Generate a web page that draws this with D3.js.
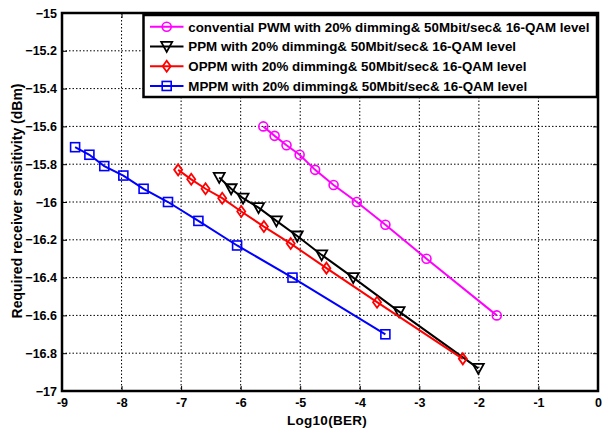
<!DOCTYPE html>
<html>
<head>
<meta charset="utf-8">
<script src="https://cdn.jsdelivr.net/npm/d3@7"></script>
<style>
  body { margin: 0; background: #fff; }
  text { font-family: "Liberation Sans", Arial, sans-serif; font-weight: bold; }
</style>
</head>
<body>
<div id="chart"></div>
<script>
// data
const pwmX  = [-5.62, -5.43, -5.23, -5.01, -4.75, -4.44, -4.05, -3.57, -2.88, -1.70];
const pwmY  = [-15.60, -15.65, -15.70, -15.75, -15.83, -15.91, -16.00, -16.12, -16.30, -16.60];
const ppmX  = [-6.36, -6.16, -5.96, -5.70, -5.40, -5.05, -4.64, -4.11, -3.34, -2.01];
const ppmY  = [-15.87, -15.93, -15.98, -16.03, -16.10, -16.18, -16.28, -16.40, -16.58, -16.88];
const oppmX = [-7.05, -6.83, -6.59, -6.31, -5.99, -5.61, -5.16, -4.56, -3.71, -2.27];
const oppmY = [-15.83, -15.88, -15.93, -15.98, -16.05, -16.13, -16.22, -16.35, -16.53, -16.83];
const mppmX = [-8.78, -8.54, -8.29, -7.97, -7.63, -7.22, -6.71, -6.06, -5.13, -3.57];
const mppmY = [-15.71, -15.75, -15.81, -15.86, -15.93, -16.00, -16.10, -16.23, -16.40, -16.70];

const xTicks = [-9, -8, -7, -6, -5, -4, -3, -2, -1, 0];
const yTicks = [-17, -16.8, -16.6, -16.4, -16.2, -16, -15.8, -15.6, -15.4, -15.2, -15];

const seriesNames = [
  "convential PWM with 20% dimming& 50Mbit/sec& 16-QAM level",
  "PPM with 20% dimming& 50Mbit/sec& 16-QAM level",
  "OPPM with 20% dimming& 50Mbit/sec& 16-QAM level",
  "MPPM with 20% dimming& 50Mbit/sec& 16-QAM level"
];
const seriesColors = ["#ff00ff", "#000000", "#ff0000", "#0000ff"];
const seriesMarkers = ["circle", "triangle", "diamond", "square"];

const series = [
  {x: pwmX, y: pwmY},
  {x: ppmX, y: ppmY},
  {x: oppmX, y: oppmY},
  {x: mppmX, y: mppmY}
].map((s, i) => ({
  name: seriesNames[i], color: seriesColors[i], marker: seriesMarkers[i],
  points: s.x.map((v, j) => [v, s.y[j]])
}));

const W = 606, H = 430;
const margin = { top: 13, right: 8, bottom: 39, left: 62 },
      width = W - margin.left - margin.right,
      height = H - margin.top - margin.bottom;

const svg = d3.select("#chart").append("svg")
    .attr("width", W).attr("height", H)
  .append("g")
    .attr("transform", `translate(${margin.left},${margin.top})`);

const x = d3.scaleLinear().domain([-9, 0]).range([0, width]);
const y = d3.scaleLinear().domain([-17, -15]).range([height, 0]);

// grid
svg.append("g").selectAll("line").data(xTicks.slice(1, -1)).enter().append("line")
    .attr("x1", d => x(d)).attr("x2", d => x(d))
    .attr("y1", 0).attr("y2", height)
    .attr("stroke", "#000").attr("stroke-width", 1).attr("stroke-dasharray", "1.5,2");
svg.append("g").selectAll("line").data(yTicks.slice(1, -1)).enter().append("line")
    .attr("y1", d => y(d)).attr("y2", d => y(d))
    .attr("x1", 0).attr("x2", width)
    .attr("stroke", "#000").attr("stroke-width", 1).attr("stroke-dasharray", "1.5,2");

// axes (inward ticks, matlab style)
const fmtY = d => d3.format("")(+d.toFixed(1));
svg.append("g")
    .attr("transform", `translate(0,${height})`)
    .call(d3.axisBottom(x).tickValues(xTicks).tickSize(-5).tickPadding(7).tickFormat(d => d))
    .call(g => g.selectAll("text").style("font-size", "12.5px").attr("fill", "#000"));
svg.append("g")
    .call(d3.axisLeft(y).tickValues(yTicks).tickSize(-5).tickPadding(5).tickFormat(fmtY))
    .call(g => g.selectAll("text").style("font-size", "12.5px").attr("fill", "#000"));
svg.append("g")
    .call(d3.axisTop(x).tickValues(xTicks).tickSize(-5).tickFormat(""));
svg.append("g")
    .attr("transform", `translate(${width},0)`)
    .call(d3.axisRight(y).tickValues(yTicks).tickSize(-5).tickFormat(""));
svg.selectAll(".domain").remove();
svg.selectAll(".tick line").attr("stroke-width", 1);

// box
svg.append("rect")
    .attr("width", width).attr("height", height)
    .attr("fill", "none").attr("stroke", "#000").attr("stroke-width", 2.5);

// markers
function drawMarker(g, type, color) {
  if (type === "circle") {
    g.append("circle").attr("r", 4.5).attr("fill", "none").attr("stroke", color).attr("stroke-width", 1.6);
  } else if (type === "square") {
    g.append("rect").attr("x", -4.5).attr("y", -4.5).attr("width", 9).attr("height", 9)
      .attr("fill", "none").attr("stroke", color).attr("stroke-width", 1.6);
  } else if (type === "triangle") {
    g.append("path").attr("d", "M-5.5,-4.5L5.5,-4.5L0,5.5Z")
      .attr("fill", "none").attr("stroke", color).attr("stroke-width", 1.8);
  } else if (type === "diamond") {
    g.append("path").attr("d", "M0,-5.5L4,0L0,5.5L-4,0Z")
      .attr("fill", "none").attr("stroke", color).attr("stroke-width", 1.8);
  }
}

const line = d3.line().x(d => x(d[0])).y(d => y(d[1]));

series.forEach(s => {
  svg.append("path").datum(s.points)
      .attr("d", line)
      .attr("fill", "none").attr("stroke", s.color).attr("stroke-width", 2);
  s.points.forEach(p => {
    const g = svg.append("g").attr("transform", `translate(${x(p[0])},${y(p[1])})`);
    drawMarker(g, s.marker, s.color);
  });
});

// legend
const legX = 143.5 - margin.left, legY = 15 - margin.top;
const leg = svg.append("g").attr("transform", `translate(${legX},${legY})`);
leg.append("rect")
    .attr("width", width - legX - 1).attr("height", 82)
    .attr("fill", "#fff").attr("stroke", "#000").attr("stroke-width", 2.5);
series.forEach((s, i) => {
  const ly = 11.7 + i * 19.75;
  leg.append("line").attr("x1", 6.5).attr("x2", 40).attr("y1", ly).attr("y2", ly)
      .attr("stroke", s.color).attr("stroke-width", 2);
  drawMarker(leg.append("g").attr("transform", `translate(23.2,${ly})`), s.marker, s.color);
  leg.append("text").attr("x", 44.8).attr("y", ly).attr("dy", "0.36em")
      .style("font-size", "13.35px").text(s.name);
});

// axis labels
svg.append("text")
    .attr("text-anchor", "middle")
    .attr("transform", `translate(${width / 2 - 3},${height + 33.5})`)
    .style("font-size", "13.5px").style("letter-spacing", "0.3px")
    .text("Log10(BER)");
svg.append("text")
    .attr("text-anchor", "middle")
    .attr("transform", `translate(${-40.5},${height / 2 - 1}) rotate(-90)`)
    .style("font-size", "14px")
    .text("Required receiver sensitivity (dBm)");
</script>
</body>
</html>
